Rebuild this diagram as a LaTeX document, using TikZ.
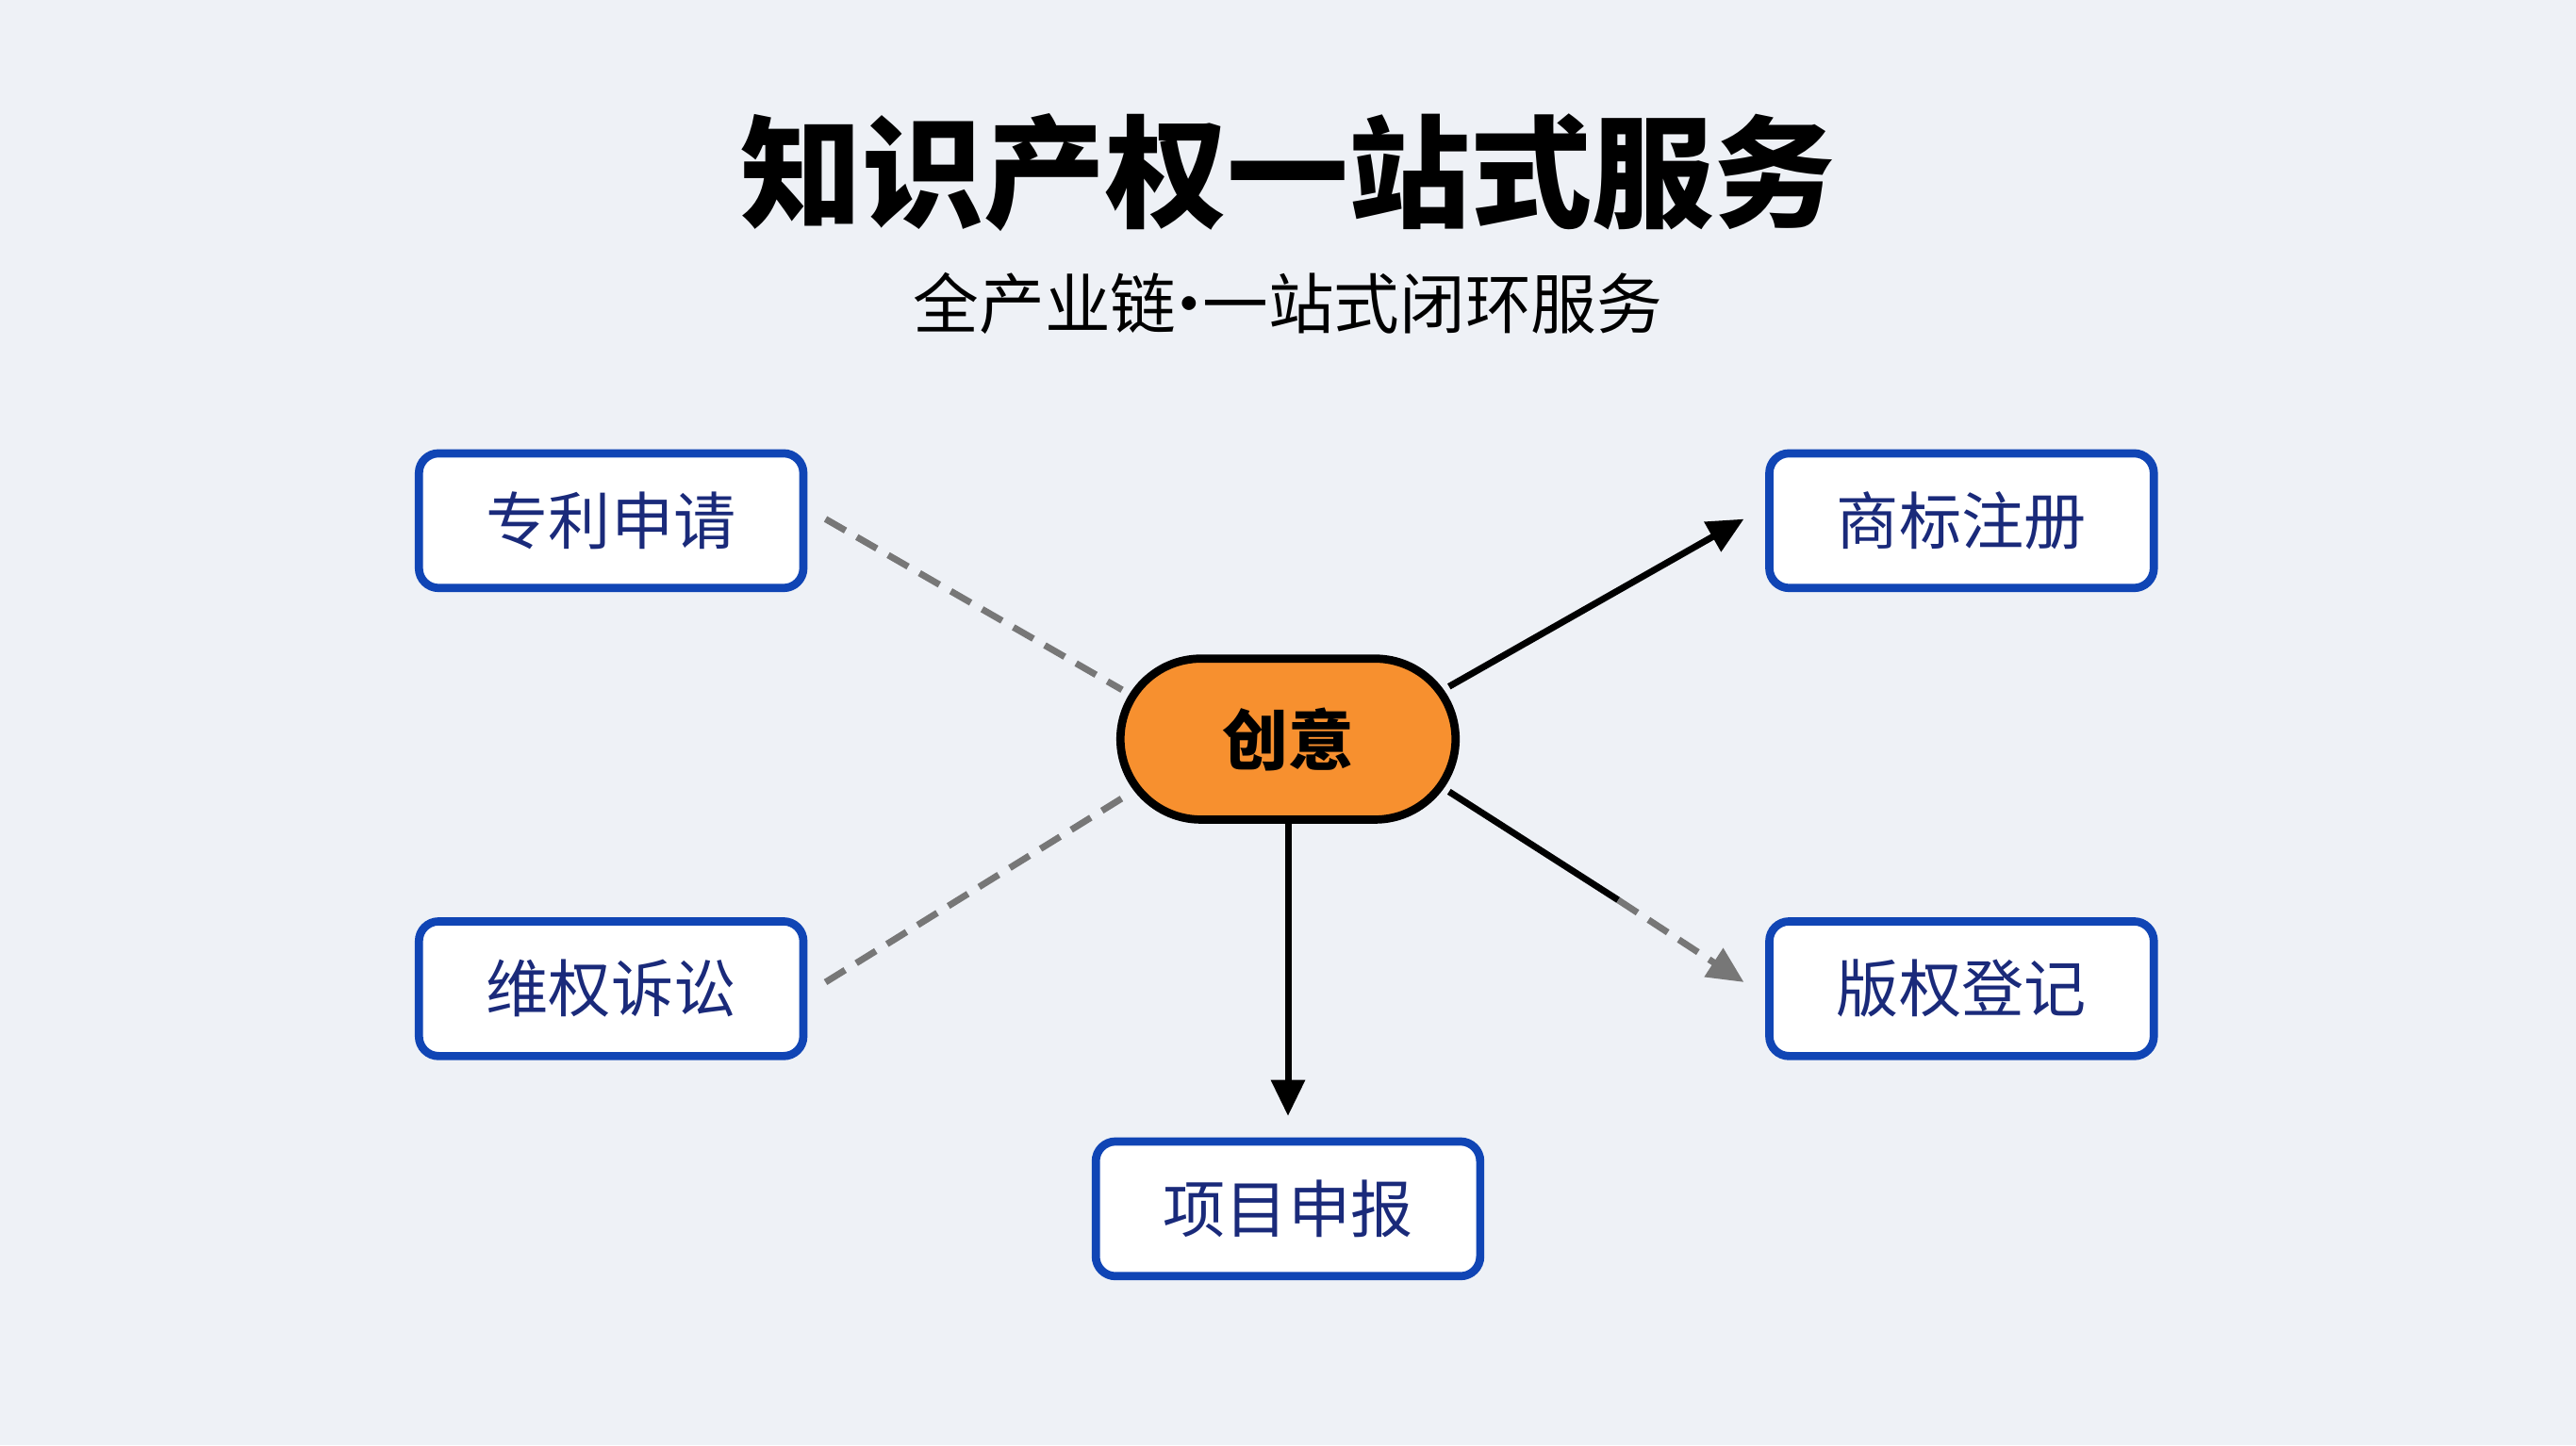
\documentclass[tikz,border=0pt]{standalone}
\usepackage{fontspec}
\setmainfont{Noto Sans CJK SC}
\usetikzlibrary{arrows.meta,calc,shapes.misc}
\definecolor{bg}{HTML}{EEF1F6}
\definecolor{bblue}{HTML}{1045B5}
\definecolor{navy}{HTML}{1A2A7A}
\definecolor{orng}{HTML}{F7902F}
\definecolor{dgray}{HTML}{777777}
\begin{document}
\begin{tikzpicture}[x=0.5pt,y=-0.5pt,
  box/.style={draw=bblue,line width=2.5pt,fill=white,rounded corners=6pt,minimum width=117pt,minimum height=41pt,text=navy,font=\fontsize{19}{19}\selectfont,inner sep=0pt},
  solidc/.style={draw=black,line width=2pt},
  dashc/.style={draw=dgray,line width=2pt,dash pattern=on 7pt off 4pt},
  tip/.style={-{Triangle[length=11pt,width=10pt]}}]
\fill[bg] (0,0) rectangle (1568,880);
\useasboundingbox (0,0) rectangle (1568,880);
\node[font=\fontsize{37}{37}\selectfont\bfseries] (title) at (784,105) {知识产权一站式服务};
\node[font=\fontsize{20}{20}\selectfont] (sub) at (784,185) {全产业链\kern-6pt·\kern-6pt一站式闭环服务};
\node[box] (p) at (372,317) {专利申请};
\node[box] (t) at (1194,317) {商标注册};
\node[box] (w) at (372,602) {维权诉讼};
\node[box] (r) at (1194,602) {版权登记};
\node[box] (x) at (784,736) {项目申报};
\node[rounded rectangle,draw=black,line width=2.5pt,fill=orng,minimum width=102pt,minimum height=49pt,font=\fontsize{20}{20}\selectfont\bfseries,inner sep=0pt] (c) at (784,450) {创意};
\coordinate (p1) at ($(p.east)+(11,-1)$);
\coordinate (c1) at ($(c.center)+(-101,-30)$);
\coordinate (w1) at ($(w.east)+(11,-4)$);
\coordinate (c2) at ($(c.center)+(-101,36)$);
\coordinate (c3) at ($(c.center)+(98,-32)$);
\coordinate (t1) at ($(t.west)+(-13,-1)$);
\coordinate (c4) at ($(c.center)+(98,32)$);
\coordinate (m) at ($(c.center)+(201,98)$);
\coordinate (r1) at ($(r.west)+(-13,-4)$);
\coordinate (x1) at ($(x.north)+(0,-13)$);
\draw[dashc] (p1) -- (c1);
\draw[dashc] (w1) -- (c2);
\draw[solidc,tip] (c3) -- (t1);
\draw[solidc] (c4) -- (m);
\draw[dashc,-{Triangle[length=11pt,width=10pt]},dgray] (m) -- (r1);
\draw[solidc,tip] (c.south) -- (x1);
\end{tikzpicture}
\end{document}
